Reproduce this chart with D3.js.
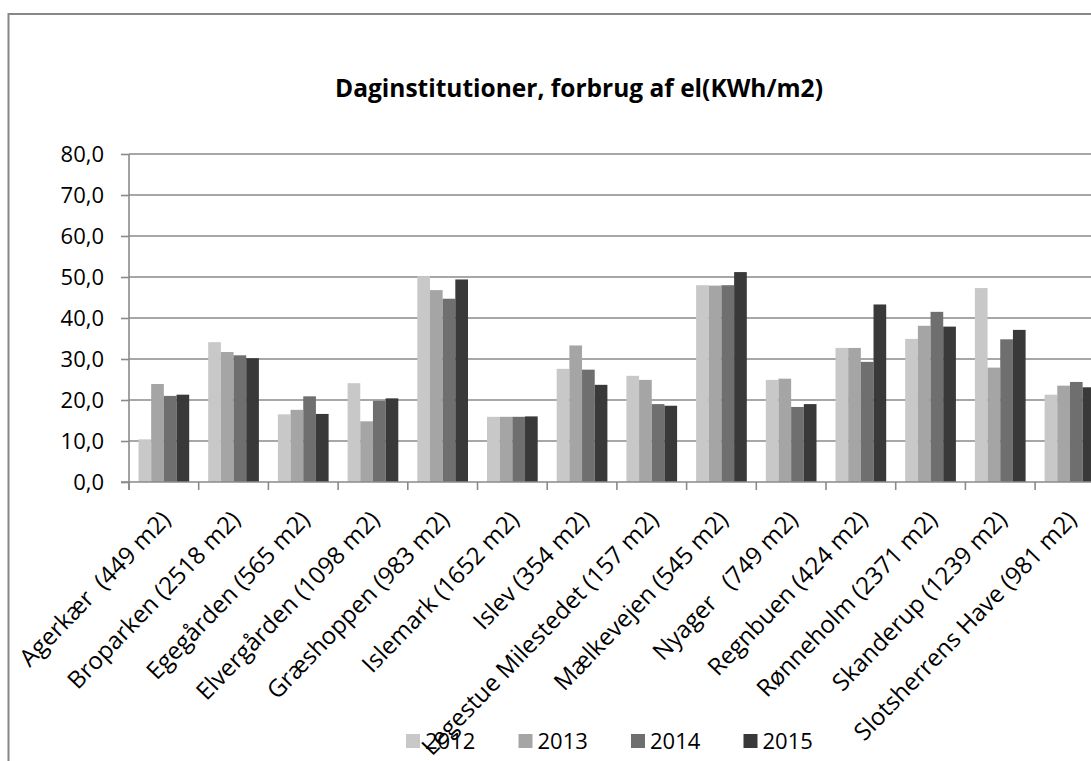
<!DOCTYPE html>
<html>
<head>
<meta charset="utf-8">
<script src="https://cdnjs.cloudflare.com/ajax/libs/d3/7.8.5/d3.min.js"></script>
<style>
  html, body { margin: 0; padding: 0; background: #fff; }
  svg { display: block; font-family: "Open Sans", sans-serif; }
</style>
</head>
<body>
<div id="chart"></div>
<script>
var categories = [
    "Agerkær  (449 m2)", "Broparken (2518 m2)", "Egegården (565 m2)", "Elvergården (1098 m2)",
    "Græshoppen (983 m2)", "Islemark (1652 m2)", "Islev (354 m2)", "Legestue Milestedet (157 m2)",
    "Mælkevejen (545 m2)", "Nyager   (749 m2)", "Regnbuen (424 m2)", "Rønneholm (2371 m2)",
    "Skanderup (1239 m2)", "Slotsherrens Have (981 m2)"
];
var years = ["2012", "2013", "2014", "2015"];
var v2012 = [10.4, 34.1, 16.5, 24.1, 50.2, 15.9, 27.6, 25.9, 48.0, 24.9, 32.7, 34.9, 47.3, 21.3];
var v2013 = [23.9, 31.7, 17.6, 14.8, 46.8, 15.9, 33.3, 24.9, 47.9, 25.2, 32.7, 38.1, 27.9, 23.5];
var v2014 = [21.0, 30.9, 20.9, 19.8, 44.7, 15.9, 27.4, 19.0, 48.0, 18.3, 29.3, 41.5, 34.8, 24.4];
var v2015 = [21.3, 30.2, 16.6, 20.4, 49.4, 16.0, 23.7, 18.6, 51.2, 19.0, 43.3, 37.9, 37.1, 23.1];
var yTicks = [0, 10, 20, 30, 40, 50, 60, 70, 80];
var title = "Daginstitutioner, forbrug af el(KWh/m2)";

var colors = {
    '2012': '#c8c8c8',
    '2013': '#a5a5a5',
    '2014': '#6f6f6f',
    '2015': '#393939'
};
var seriesValues = [v2012, v2013, v2014, v2015];

var width = 1091, height = 761;
var plotLeft = 129, plotTop = 154, plotBottom = 482;
var step = 69.7;

var svg = d3.select('#chart').append('svg')
    .attr('width', width)
    .attr('height', height);

// chart frame (runs off the right and bottom edges like the source)
svg.append('rect')
    .attr('x', 8.5).attr('y', 14)
    .attr('width', 1200).attr('height', 900)
    .attr('fill', 'none')
    .attr('stroke', '#878787')
    .attr('stroke-width', 2);

svg.append('text')
    .attr('x', 579).attr('y', 97)
    .attr('text-anchor', 'middle')
    .attr('font-weight', 'bold')
    .attr('font-size', 24.5)
    .attr('fill', '#000')
    .text(title);

var x0 = d3.scaleBand()
    .domain(categories)
    .range([plotLeft, plotLeft + step * categories.length]);

var x1 = d3.scaleBand()
    .domain(years)
    .range([9.5, x0.bandwidth() - 9.5]);

var y = d3.scaleLinear()
    .domain([0, 80])
    .range([plotBottom, plotTop]);

// gridlines
svg.append('g')
    .selectAll('line')
    .data(yTicks.slice(1))
    .join('line')
    .attr('x1', plotLeft).attr('x2', width)
    .attr('y1', function (d) { return y(d); })
    .attr('y2', function (d) { return y(d); })
    .attr('stroke', '#8a8a8a')
    .attr('stroke-width', 1.6);

// bars
var rows = categories.map(function (c, i) {
    return { cat: c, vals: years.map(function (yr, j) { return { year: yr, value: seriesValues[j][i] }; }) };
});

var groups = svg.append('g')
    .selectAll('g')
    .data(rows)
    .join('g')
    .attr('transform', function (d) { return 'translate(' + x0(d.cat) + ',0)'; });

groups.selectAll('rect')
    .data(function (d) { return d.vals; })
    .join('rect')
    .attr('x', function (d) { return x1(d.year); })
    .attr('width', x1.bandwidth())
    .attr('y', function (d) { return y(d.value); })
    .attr('height', function (d) { return plotBottom - y(d.value); })
    .attr('fill', function (d) { return colors[d.year]; });

// y axis
var yAxis = svg.append('g')
    .attr('transform', 'translate(' + plotLeft + ',0)')
    .call(d3.axisLeft(y)
        .tickValues(yTicks)
        .tickSize(8)
        .tickPadding(17)
        .tickFormat(function (d) { return d3.format('.1f')(d).replace('.', ','); }));

yAxis.select('.domain').attr('stroke', '#8a8a8a').attr('stroke-width', 1.6)
    .attr('d', 'M0,' + (plotBottom + 8) + 'V' + plotTop);
yAxis.selectAll('.tick line').attr('stroke', '#8a8a8a').attr('stroke-width', 1.6);
yAxis.selectAll('.tick text')
    .attr('font-family', '"Open Sans", sans-serif')
    .attr('font-size', 22)
    .attr('fill', '#000');

// x axis
var xAxis = svg.append('g')
    .attr('transform', 'translate(0,' + plotBottom + ')');

xAxis.append('line')
    .attr('x1', plotLeft - 8).attr('x2', width)
    .attr('y1', 0).attr('y2', 0)
    .attr('stroke', '#8a8a8a')
    .attr('stroke-width', 1.6);

xAxis.selectAll('line.tk')
    .data(categories)
    .join('line')
    .attr('class', 'tk')
    .attr('x1', function (d) { return x0(d); })
    .attr('x2', function (d) { return x0(d); })
    .attr('y1', 0).attr('y2', 8)
    .attr('stroke', '#8a8a8a')
    .attr('stroke-width', 1.6);

xAxis.selectAll('text')
    .data(categories)
    .join('text')
    .attr('text-anchor', 'end')
    .attr('font-size', 24)
    .attr('fill', '#000')
    .style('white-space', 'pre')
    .attr('transform', function (d) {
        return 'translate(' + (x0(d) + x0.bandwidth() / 2 + 2) + ',' + 33 + ') rotate(-46)';
    })
    .attr('dy', '0.35em')
    .text(function (d) { return d; });

// legend
var legend = svg.append('g')
    .selectAll('g')
    .data(years)
    .join('g')
    .attr('transform', function (d, i) { return 'translate(' + (406 + i * 112.5) + ',734)'; });

legend.append('rect')
    .attr('width', 14).attr('height', 14)
    .attr('fill', function (d) { return colors[d]; });

legend.append('text')
    .attr('x', 19).attr('y', 15)
    .attr('font-size', 22)
    .attr('fill', '#000')
    .text(function (d) { return d; });
</script>
</body>
</html>
